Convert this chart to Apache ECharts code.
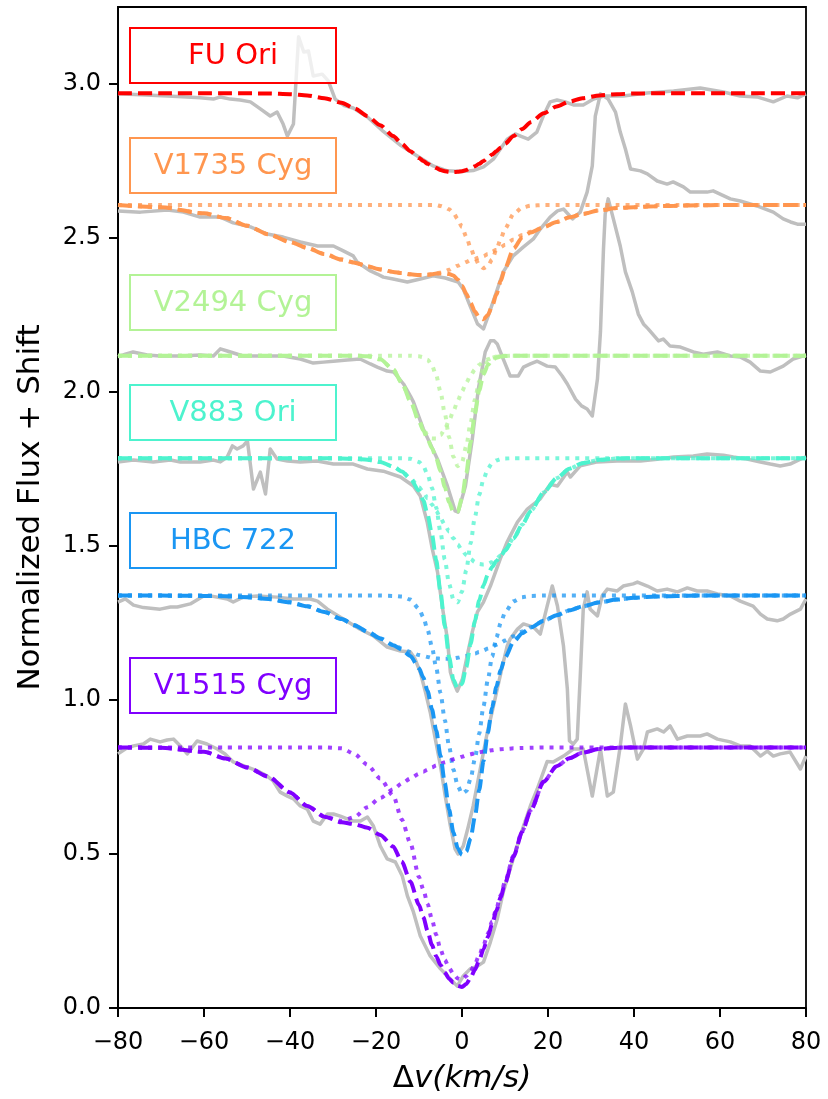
<!DOCTYPE html>
<html><head><meta charset="utf-8">
<script src="https://cdn.jsdelivr.net/npm/echarts@6/dist/echarts.min.js"></script>
<style>html,body{margin:0;padding:0;background:#fff}#c{width:828px;height:1099px}</style>
</head><body><div id="c"></div>
<script>
// ---------------- data ----------------
const starNames = ['FU Ori', 'V1735 Cyg', 'V2494 Cyg', 'V883 Ori', 'HBC 722', 'V1515 Cyg'];
const starColors = ['#ff0000', '#ff964f', '#b3f396', '#4df3ce', '#1a96f3', '#8000ff'];
const yTicks = [0, 0.5, 1.0, 1.5, 2.0, 2.5, 3.0];
const xTicks = [-80, -60, -40, -20, 0, 20, 40, 60, 80];

// velocity grid (km/s) for the model curves
const velocityGrid = [-80,-70,-60,-55,-50,-45,-40,-36,-32,-28,-25,-22,-19,-16,-14,-12,-10,-9,-8,-7,-6,-5,-4,-3,-2,-1,0,1,2,3,4,5,6,7,8,9,10,12,14,16,19,22,25,28,32,36,40,45,50,55,60,70,80];

const fuOriModel = [2.970,2.970,2.970,2.970,2.970,2.969,2.967,2.963,2.954,2.939,2.921,2.896,2.866,2.831,2.806,2.782,2.760,2.750,2.741,2.733,2.727,2.721,2.717,2.715,2.714,2.715,2.717,2.721,2.727,2.733,2.741,2.750,2.760,2.771,2.782,2.794,2.806,2.831,2.854,2.876,2.905,2.927,2.943,2.954,2.963,2.967,2.969,2.970,2.970,2.970,2.970,2.970,2.970];

const v1735Broad = [2.607,2.600,2.580,2.565,2.540,2.512,2.487,2.468,2.448,2.430,2.420,2.408,2.398,2.390,2.386,2.382,2.380,2.380,2.381,2.382,2.385,2.388,2.392,2.397,2.404,2.410,2.416,2.422,2.428,2.432,2.437,2.441,2.448,2.455,2.462,2.470,2.478,2.495,2.510,2.520,2.535,2.552,2.567,2.578,2.590,2.597,2.600,2.603,2.605,2.606,2.607,2.607,2.607];
const v1735Narrow = [2.607,2.607,2.607,2.607,2.607,2.607,2.607,2.607,2.607,2.607,2.607,2.607,2.607,2.607,2.607,2.607,2.607,2.607,2.607,2.607,2.607,2.604,2.600,2.593,2.581,2.562,2.536,2.504,2.468,2.436,2.412,2.402,2.409,2.430,2.462,2.497,2.530,2.578,2.599,2.605,2.607,2.607,2.607,2.607,2.607,2.607,2.607,2.607,2.607,2.607,2.607,2.607,2.607];
const v1735Model = [2.607,2.600,2.580,2.565,2.540,2.512,2.487,2.468,2.448,2.430,2.420,2.408,2.398,2.390,2.386,2.382,2.380,2.380,2.381,2.382,2.385,2.385,2.385,2.383,2.378,2.365,2.345,2.319,2.289,2.261,2.242,2.236,2.250,2.278,2.317,2.360,2.401,2.466,2.502,2.518,2.535,2.552,2.567,2.578,2.590,2.597,2.600,2.603,2.605,2.606,2.607,2.607,2.607];

const v2494CompA = [2.118,2.118,2.118,2.118,2.118,2.118,2.118,2.118,2.118,2.118,2.118,2.118,2.118,2.118,2.118,2.118,2.116,2.113,2.105,2.087,2.054,2.001,1.930,1.853,1.790,1.759,1.772,1.825,1.900,1.975,2.035,2.076,2.099,2.111,2.115,2.117,2.118,2.118,2.118,2.118,2.118,2.118,2.118,2.118,2.118,2.118,2.118,2.118,2.118,2.118,2.118,2.118,2.118];
const v2494CompB = [2.118,2.118,2.118,2.118,2.118,2.118,2.118,2.118,2.118,2.118,2.118,2.116,2.106,2.073,2.030,1.971,1.907,1.880,1.860,1.849,1.849,1.860,1.880,1.907,1.938,1.971,2.002,2.030,2.054,2.073,2.088,2.099,2.106,2.111,2.114,2.116,2.117,2.118,2.118,2.118,2.118,2.118,2.118,2.118,2.118,2.118,2.118,2.118,2.118,2.118,2.118,2.118,2.118];
const v2494Model = [2.118,2.118,2.118,2.118,2.118,2.118,2.118,2.118,2.118,2.118,2.118,2.116,2.106,2.073,2.030,1.971,1.905,1.875,1.847,1.818,1.785,1.743,1.692,1.642,1.610,1.612,1.656,1.737,1.836,1.930,2.005,2.057,2.087,2.104,2.111,2.115,2.117,2.118,2.118,2.118,2.118,2.118,2.118,2.118,2.118,2.118,2.118,2.118,2.118,2.118,2.118,2.118,2.118];

const v883CompN = [1.785,1.785,1.785,1.785,1.785,1.785,1.785,1.785,1.785,1.785,1.785,1.785,1.785,1.785,1.785,1.783,1.773,1.759,1.732,1.689,1.625,1.544,1.456,1.377,1.326,1.317,1.352,1.422,1.509,1.594,1.666,1.717,1.750,1.769,1.778,1.782,1.784,1.785,1.785,1.785,1.785,1.785,1.785,1.785,1.785,1.785,1.785,1.785,1.785,1.785,1.785,1.785,1.785];
const v883CompM = [1.785,1.785,1.785,1.785,1.785,1.785,1.785,1.785,1.785,1.784,1.783,1.780,1.773,1.758,1.742,1.720,1.691,1.674,1.655,1.635,1.614,1.591,1.569,1.547,1.525,1.505,1.486,1.470,1.458,1.448,1.442,1.440,1.442,1.448,1.458,1.470,1.486,1.525,1.569,1.614,1.674,1.720,1.751,1.769,1.780,1.784,1.785,1.785,1.785,1.785,1.785,1.785,1.785];
const v883Model = [1.785,1.785,1.785,1.785,1.785,1.785,1.785,1.785,1.785,1.784,1.783,1.780,1.773,1.758,1.742,1.718,1.679,1.648,1.602,1.539,1.454,1.350,1.240,1.139,1.066,1.037,1.053,1.107,1.182,1.257,1.323,1.372,1.407,1.432,1.451,1.467,1.485,1.525,1.569,1.614,1.674,1.720,1.751,1.769,1.780,1.784,1.785,1.785,1.785,1.785,1.785,1.785,1.785];

const hbc722CompR = [1.339,1.339,1.338,1.337,1.334,1.328,1.317,1.304,1.286,1.263,1.243,1.222,1.200,1.179,1.167,1.156,1.146,1.143,1.140,1.137,1.135,1.134,1.134,1.134,1.135,1.137,1.140,1.143,1.146,1.151,1.156,1.161,1.167,1.173,1.179,1.186,1.193,1.207,1.222,1.236,1.257,1.275,1.291,1.304,1.317,1.326,1.332,1.336,1.338,1.339,1.339,1.339,1.339];
const hbc722CompP = [1.339,1.339,1.339,1.339,1.339,1.339,1.339,1.339,1.339,1.339,1.339,1.339,1.339,1.338,1.336,1.326,1.296,1.269,1.228,1.173,1.105,1.023,0.935,0.849,0.774,0.721,0.696,0.704,0.744,0.809,0.891,0.980,1.065,1.141,1.203,1.250,1.284,1.321,1.334,1.338,1.339,1.339,1.339,1.339,1.339,1.339,1.339,1.339,1.339,1.339,1.339,1.339,1.339];
const hbc722Model = [1.339,1.339,1.338,1.337,1.334,1.328,1.317,1.304,1.286,1.263,1.243,1.222,1.200,1.178,1.164,1.143,1.103,1.073,1.029,0.971,0.901,0.818,0.730,0.644,0.570,0.519,0.497,0.508,0.551,0.621,0.708,0.802,0.893,0.975,1.043,1.097,1.138,1.189,1.217,1.235,1.257,1.275,1.291,1.304,1.317,1.326,1.332,1.336,1.338,1.339,1.339,1.339,1.339];

const v1515CompS = [0.846,0.845,0.832,0.810,0.781,0.751,0.700,0.656,0.622,0.607,0.620,0.652,0.682,0.710,0.729,0.745,0.760,0.767,0.774,0.781,0.788,0.793,0.798,0.803,0.808,0.812,0.816,0.820,0.824,0.827,0.830,0.833,0.835,0.837,0.839,0.840,0.841,0.843,0.844,0.845,0.846,0.846,0.846,0.846,0.846,0.846,0.846,0.846,0.846,0.846,0.846,0.846,0.846];
const v1515CompT = [0.846,0.846,0.846,0.846,0.846,0.846,0.846,0.846,0.846,0.843,0.825,0.790,0.745,0.690,0.612,0.535,0.425,0.385,0.338,0.288,0.238,0.190,0.156,0.130,0.110,0.096,0.092,0.104,0.120,0.143,0.171,0.204,0.241,0.281,0.323,0.366,0.410,0.495,0.574,0.643,0.735,0.785,0.811,0.829,0.841,0.845,0.846,0.846,0.846,0.846,0.846,0.846,0.846];
const v1515Model = [0.846,0.845,0.832,0.810,0.781,0.751,0.700,0.656,0.621,0.603,0.597,0.585,0.562,0.524,0.475,0.410,0.335,0.295,0.250,0.205,0.168,0.140,0.115,0.095,0.082,0.072,0.068,0.078,0.098,0.124,0.155,0.191,0.230,0.272,0.316,0.360,0.405,0.492,0.572,0.642,0.735,0.785,0.811,0.829,0.841,0.845,0.846,0.846,0.846,0.846,0.846,0.846,0.846];

// observed spectra: [velocity, normalized flux + shift]
const fuOriObs = [[-80,2.968],[-74.8,2.965],[-68.5,2.961],[-64,2.958],[-60.9,2.955],[-57.8,2.951],[-56.2,2.958],[-53.9,2.951],[-51.6,2.948],[-49.2,2.942],[-46.9,2.919],[-44.6,2.896],[-43,2.909],[-41.6,2.87],[-40.6,2.831],[-39.2,2.87],[-38,3.153],[-36.8,3.104],[-35.7,3.107],[-34.6,3.026],[-32.5,3.032],[-31.1,3.01],[-29.5,2.951],[-27.4,2.93],[-25.3,2.922],[-22,2.893],[-18.3,2.846],[-14.2,2.8],[-10.4,2.766],[-6.7,2.734],[-3.4,2.718],[0,2.716],[2.6,2.719],[5,2.731],[7.3,2.756],[10.5,2.821],[12.4,2.838],[13.6,2.831],[15.4,2.821],[17.4,2.844],[18.9,2.896],[20.5,2.942],[22.1,2.948],[24,2.942],[25.9,2.932],[28.2,2.932],[30.6,2.951],[32.9,2.961],[37.5,2.961],[43,2.971],[49.2,2.977],[55.4,2.987],[60.8,2.974],[64.7,2.961],[68.6,2.958],[72.4,2.942],[75.6,2.961],[78,2.955],[80,2.968]];
const v1735Obs = [[-80,2.588],[-74.8,2.584],[-68.5,2.591],[-64.8,2.584],[-60.9,2.568],[-56.2,2.568],[-53.2,2.549],[-49.2,2.536],[-45.3,2.513],[-41.6,2.503],[-37.6,2.487],[-33.6,2.474],[-29.9,2.474],[-27.6,2.458],[-25.3,2.442],[-24.4,2.422],[-21.3,2.393],[-19.7,2.383],[-18.3,2.373],[-16,2.367],[-12.7,2.357],[-9.7,2.367],[-6.7,2.377],[-3.9,2.37],[-0.9,2.357],[0.3,2.334],[1.9,2.279],[3.6,2.221],[5,2.205],[6.1,2.247],[7.7,2.312],[9.6,2.39],[11.9,2.442],[14.3,2.471],[16.6,2.497],[18.2,2.529],[20.5,2.568],[22.2,2.588],[23.6,2.594],[25.7,2.562],[27.5,2.584],[29.1,2.649],[30.3,2.734],[31,2.896],[32.2,2.968],[34,2.951],[35.7,2.909],[36.8,2.844],[38,2.789],[39.2,2.724],[41.5,2.718],[43.1,2.708],[45.4,2.685],[47.7,2.675],[49.1,2.682],[51.5,2.666],[53.1,2.649],[57,2.649],[58.4,2.653],[62.4,2.627],[64.7,2.62],[68.6,2.604],[72.4,2.584],[74.7,2.562],[76.4,2.552],[78,2.545],[80,2.545]];
const v2494Obs = [[-80,2.114],[-78.3,2.123],[-76.5,2.13],[-73.2,2.12],[-70.2,2.117],[-65.5,2.117],[-60.9,2.12],[-57.8,2.117],[-56.2,2.14],[-54.6,2.133],[-50.9,2.117],[-46.2,2.117],[-41.6,2.117],[-37.6,2.107],[-34.6,2.094],[-32.2,2.097],[-29.9,2.1],[-26.7,2.104],[-23.7,2.107],[-21.3,2.091],[-19.7,2.081],[-17.4,2.068],[-15.9,2.065],[-13.6,2.026],[-12,1.987],[-11.3,1.968],[-9,1.88],[-5.7,1.782],[-3.4,1.695],[-1.6,1.614],[-0.9,1.61],[0.8,1.695],[2.4,1.847],[3.8,2.01],[5.4,2.13],[6.6,2.166],[7.5,2.166],[8.2,2.156],[9.6,2.107],[11.2,2.052],[13.1,2.052],[14.3,2.081],[15.9,2.091],[17.5,2.1],[19.8,2.084],[21.7,2.081],[23.3,2.052],[24.5,2.026],[26.4,1.977],[27.8,1.955],[29.1,1.945],[30.3,1.922],[31.5,2.042],[32.2,2.195],[32.9,2.464],[33.3,2.578],[34,2.627],[35.2,2.562],[36.8,2.474],[38,2.39],[39.6,2.325],[41,2.253],[42.2,2.221],[43.3,2.205],[45.7,2.166],[46.8,2.172],[48.4,2.149],[50.8,2.146],[53.8,2.13],[56.1,2.123],[59.4,2.13],[62.4,2.117],[64.7,2.114],[67,2.097],[69.4,2.068],[71.7,2.065],[74.7,2.084],[77,2.107],[80,2.12]];
const v883Obs = [[-80,1.773],[-76.4,1.779],[-71.8,1.773],[-67.8,1.779],[-65.5,1.773],[-60.9,1.773],[-57.8,1.779],[-56.2,1.773],[-54.6,1.789],[-53.4,1.825],[-52.3,1.815],[-50.9,1.825],[-49.9,1.841],[-48.5,1.685],[-46.9,1.74],[-45.7,1.669],[-44.6,1.815],[-43,1.782],[-40.6,1.776],[-37.6,1.773],[-33.7,1.776],[-29.9,1.766],[-25.3,1.766],[-22,1.75],[-18.3,1.743],[-14.3,1.724],[-11.3,1.695],[-9.7,1.662],[-8.1,1.578],[-6.9,1.49],[-5.7,1.416],[-4.6,1.305],[-3.4,1.198],[-2.7,1.09],[-2,1.058],[-1.1,1.029],[0.1,1.068],[1.2,1.143],[2.4,1.221],[3.6,1.286],[5,1.318],[6.6,1.37],[8.9,1.458],[10.5,1.513],[11.2,1.532],[12.9,1.578],[15.2,1.62],[18.2,1.653],[20.5,1.7],[22.2,1.695],[24.5,1.74],[25.2,1.724],[27.5,1.76],[31.5,1.773],[36.1,1.776],[41.5,1.776],[45.4,1.782],[49.2,1.789],[53.8,1.792],[57,1.799],[60.8,1.795],[63.1,1.789],[66.3,1.782],[69.4,1.773],[71.7,1.766],[74,1.76],[76.3,1.766],[78.7,1.782],[80,1.789]];
const hbc722Obs = [[-80,1.318],[-78.3,1.328],[-76.4,1.308],[-74.1,1.3],[-70.2,1.295],[-67.8,1.302],[-66.2,1.302],[-63.2,1.312],[-60.1,1.338],[-58.5,1.338],[-54.6,1.328],[-53.2,1.318],[-50.9,1.334],[-47.6,1.338],[-43,1.334],[-39.2,1.328],[-35.3,1.328],[-33.6,1.321],[-31.3,1.295],[-27.6,1.263],[-23.7,1.23],[-20.6,1.208],[-17.4,1.172],[-14.3,1.159],[-12,1.156],[-10.9,1.133],[-9.7,1.09],[-8.5,1.026],[-7.4,0.961],[-6.2,0.873],[-5,0.786],[-3.9,0.688],[-2.7,0.591],[-1.6,0.516],[-0.9,0.5],[0.3,0.526],[1.5,0.591],[2.6,0.656],[3.8,0.744],[5,0.831],[5.9,0.896],[7,0.961],[8.2,1.036],[9.4,1.11],[10.5,1.175],[11.2,1.198],[12.9,1.23],[14.3,1.247],[15.9,1.24],[16.6,1.237],[18.2,1.214],[19.8,1.305],[21,1.37],[22.2,1.305],[23.6,1.175],[24.5,1.036],[25,0.867],[25.9,0.857],[26.8,0.873],[27.5,1.078],[28.2,1.295],[29.1,1.351],[29.8,1.295],[31.5,1.273],[32.6,1.338],[33.8,1.36],[36.1,1.354],[37.5,1.37],[39.8,1.377],[40.8,1.383],[43.1,1.37],[45.4,1.354],[47.7,1.36],[50.1,1.351],[52.4,1.364],[54.7,1.354],[57,1.354],[59.4,1.344],[62.4,1.338],[64.7,1.321],[67.7,1.305],[69.4,1.279],[71,1.263],[73.3,1.257],[74.7,1.263],[76.4,1.279],[78.7,1.295],[80,1.328]];
const v1515Obs = [[-80,0.825],[-78.3,0.841],[-76.4,0.851],[-74.1,0.857],[-72.5,0.873],[-70.2,0.864],[-68.6,0.87],[-67.1,0.873],[-65.5,0.851],[-63.9,0.825],[-61.6,0.867],[-59.3,0.857],[-56.9,0.841],[-55.1,0.825],[-53.2,0.799],[-49.9,0.782],[-47.6,0.77],[-45.3,0.753],[-43.9,0.737],[-42.3,0.701],[-40.6,0.688],[-39.2,0.679],[-37.6,0.656],[-36,0.646],[-34.6,0.607],[-33,0.597],[-31.3,0.63],[-29.9,0.63],[-28.3,0.623],[-26.7,0.614],[-25.3,0.607],[-23.6,0.607],[-22,0.62],[-20.6,0.591],[-19,0.526],[-17.4,0.484],[-15.5,0.474],[-13.9,0.429],[-12.7,0.364],[-11.3,0.312],[-9.7,0.234],[-7.4,0.169],[-5,0.127],[-2.7,0.094],[-1.1,0.071],[0.3,0.104],[1.9,0.127],[3.6,0.136],[5,0.149],[6.6,0.214],[8.2,0.289],[9.6,0.377],[11.9,0.484],[14.3,0.591],[15.9,0.656],[17.5,0.711],[19.8,0.8],[21.2,0.799],[23.6,0.818],[25.9,0.841],[28.2,0.841],[30.3,0.688],[32.2,0.841],[33.8,0.688],[35.2,0.701],[36.8,0.85],[38,0.987],[39.2,0.916],[40.8,0.808],[42.2,0.841],[43.1,0.896],[45.4,0.906],[46.9,0.896],[48.4,0.916],[50.1,0.873],[52.4,0.883],[55.4,0.883],[57,0.89],[59.4,0.873],[62.4,0.864],[64.7,0.851],[67,0.851],[69.4,0.818],[71,0.834],[72.4,0.818],[74,0.825],[76.3,0.831],[78.7,0.776],[80,0.818]];

// ---------------- chart ----------------
const FONT = 'DejaVu Sans';
const observed = [fuOriObs, v1735Obs, v2494Obs, v883Obs, hbc722Obs, v1515Obs];
const models = [fuOriModel, v1735Model, v2494Model, v883Model, hbc722Model, v1515Model];
const components = [[], [v1735Broad, v1735Narrow], [v2494CompA, v2494CompB], [v883CompN, v883CompM], [hbc722CompR, hbc722CompP], [v1515CompS, v1515CompT]];
const onGrid = arr => velocityGrid.map((v, i) => [v, arr[i]]);

const series = [];
observed.forEach((obs, i) => series.push({
  name: starNames[i] + ' obs', type: 'line', data: obs, symbol: 'none', z: 1,
  lineStyle: { color: '#bfbfbf', width: 3.5, join: 'round' }, silent: true
}));
components.forEach((comps, i) => comps.forEach((c, k) => series.push({
  name: starNames[i] + ' comp' + k, type: 'line', data: onGrid(c), symbol: 'none', z: 2,
  smooth: 0.25, smoothMonotone: 'x',
  lineStyle: { color: starColors[i], width: 4, type: [4, 6], opacity: 0.75 }, silent: true
})));
models.forEach((m, i) => series.push({
  name: starNames[i] + ' model', type: 'line', data: onGrid(m), symbol: 'none', z: 3,
  smooth: 0.25, smoothMonotone: 'x',
  lineStyle: { color: starColors[i], width: 4, type: [14, 6] }, silent: true
}));

// tick marks as a custom series: dimension 0 = axis (0: y, 1: x), dimension 1 = tick value
series.push({
  name: 'ticks', type: 'custom', silent: true, clip: false, z: 10,
  dimensions: ['axis', 'value'],
  encode: { x: 'value', y: 'value' },
  data: yTicks.map(v => [0, v]).concat(xTicks.map(v => [1, v])),
  renderItem: (params, api) => {
    const isY = api.value(0) === 0;
    const val = api.value(1);
    const p = isY ? api.coord([-80, val]) : api.coord([val, 0]);
    const shape = isY ? { x1: p[0] - 9, y1: p[1], x2: p[0], y2: p[1] } : { x1: p[0], y1: p[1], x2: p[0], y2: p[1] + 9 };
    return { type: 'line', shape: shape, style: { stroke: '#000', lineWidth: 1.8 } };
  }
});

const boxTops = [28, 138, 275, 385, 513, 658];
const graphics = [];
starNames.forEach((nm, i) => {
  graphics.push({ type: 'rect', z: 100, shape: { x: 130, y: boxTops[i], width: 206, height: 55 },
    style: { fill: 'rgba(255,255,255,0.75)', stroke: starColors[i], lineWidth: 2 } });
  graphics.push({ type: 'text', z: 101, x: 233, y: boxTops[i] + 28,
    style: { text: nm, fill: starColors[i], fontSize: 29, fontFamily: FONT, align: 'center', verticalAlign: 'middle' } });
});

const chart = echarts.init(document.getElementById('c'), null, { renderer: 'canvas' });
chart.setOption({
  animation: false,
  backgroundColor: '#fff',
  grid: { left: 118, right: 22, top: 7, bottom: 90, show: true, borderColor: '#000', borderWidth: 1.8, backgroundColor: 'transparent' },
  xAxis: {
    type: 'value', min: -80, max: 80, interval: 20, position: 'bottom',
    name: '{a|Δ}{b|v(km/s)}', nameLocation: 'middle', nameGap: 55,
    nameTextStyle: { rich: { a: { fontSize: 31, fontFamily: FONT, color: '#000' }, b: { fontSize: 31, fontFamily: FONT, fontStyle: 'italic', color: '#000' } } },
    axisLine: { show: true, onZero: false, lineStyle: { color: '#000', width: 1.8 } },
    axisTick: { show: true, length: 9, lineStyle: { color: '#000', width: 1.8 } },
    axisLabel: { fontSize: 24, fontFamily: FONT, color: '#000', margin: 23,
      formatter: v => v < 0 ? '\u2212' + (-v) : String(v) },
    splitLine: { show: false }
  },
  yAxis: {
    type: 'value', min: 0, max: 3.25, position: 'left',
    name: 'Normalized Flux + Shift', nameLocation: 'middle', nameGap: 72,
    nameTextStyle: { fontSize: 31, fontFamily: FONT, color: '#000' },
    axisLine: { show: true, onZero: false, lineStyle: { color: '#000', width: 1.8 } },
    axisTick: { show: true, length: 9, lineStyle: { color: '#000', width: 1.8 }, customValues: yTicks },
    axisLabel: { fontSize: 24, fontFamily: FONT, color: '#000', margin: 17, customValues: yTicks,
      formatter: v => (Math.abs(v * 2 - Math.round(v * 2)) < 1e-6 ? v.toFixed(1) : '') },
    splitLine: { show: false }
  },
  graphic: graphics,
  series: series
});
</script>
</body></html>
